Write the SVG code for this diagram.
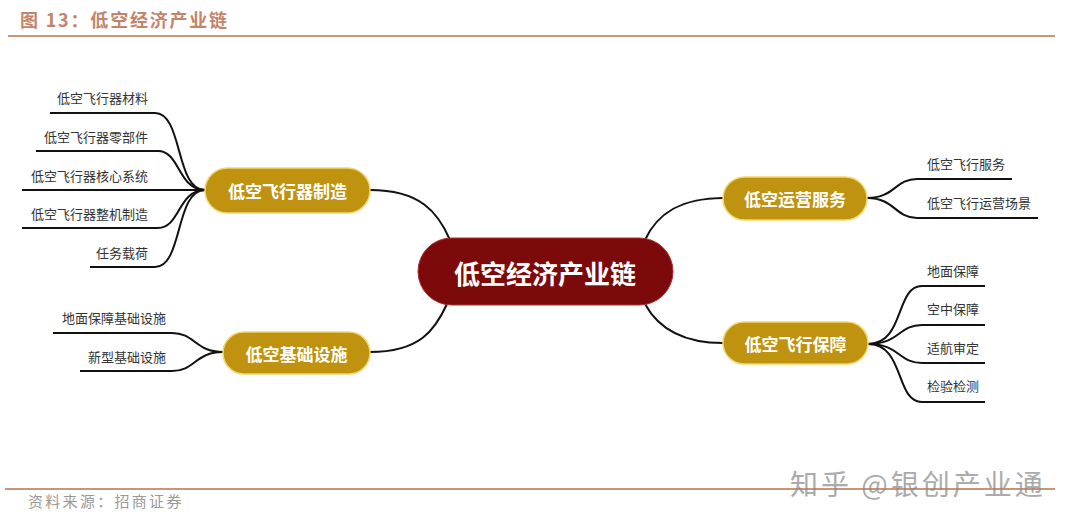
<svg xmlns="http://www.w3.org/2000/svg" width="1080" height="527" viewBox="0 0 1080 527">
<style>
text{font-family:"Noto Sans CJK SC","Noto Sans",sans-serif;}
.leaf{font-size:13px;fill:#333;}
.lr{text-anchor:end;}
.node{fill:#bf930f;stroke:#f2d670;stroke-width:1.5;}
.ntext{font-size:17px;fill:#fff;font-weight:bold;text-anchor:middle;dominant-baseline:central;}
.con{fill:none;stroke:#111;stroke-width:2;}
</style>
<rect width="1080" height="527" fill="#fff"/>
<text x="20" y="27" font-size="18" font-weight="bold" fill="#c4846a" letter-spacing="1.8">图 13：低空经济产业链</text>
<line x1="8" y1="36" x2="1055" y2="36" stroke="#c8947a" stroke-width="2"/>
<line x1="5" y1="489" x2="1055" y2="489" stroke="#c8947a" stroke-width="2"/>
<text x="28" y="507" font-size="15" fill="#999" letter-spacing="2.3">资料来源：招商证券</text>
<text x="790" y="495" font-size="28" fill="#888" opacity="0.7" letter-spacing="3">知乎 @银创产业通</text>

<g id="connectors">
<path class="con" d="M370,190 C420,190 438,212 450,240"/>
<path class="con" d="M370,352 C420,352 435,330 447,304"/>
<path class="con" d="M723,198 C680,198 657,214 645,240"/>
<path class="con" d="M723,343 C680,343 657,326 645,304"/>
<path class="con" d="M205,190 C175,190 183,113 155,113 H50"/>
<path class="con" d="M205,190 C178,190 180,151 158,151 H36"/>
<path class="con" d="M205,190 H22"/>
<path class="con" d="M205,190 C178,190 180,228 158,228 H22"/>
<path class="con" d="M205,190 C175,190 183,267 155,267 H90"/>
<path class="con" d="M223,352 C195,352 195,333 172,333 H53"/>
<path class="con" d="M223,352 C195,352 195,371 172,371 H80"/>
<path class="con" d="M867,198 C895,198 895,179 917,179 H1012"/>
<path class="con" d="M867,198 C895,198 895,218 917,218 H1038"/>
<path class="con" d="M868,344 C905,344 895,286 922,286 H985"/>
<path class="con" d="M868,344 C900,344 898,325 922,325 H985"/>
<path class="con" d="M868,344 C900,344 898,363 922,363 H985"/>
<path class="con" d="M868,344 C905,344 895,402 922,402 H985"/>
</g>

<g id="center">
<rect x="418" y="238" width="255" height="67" rx="33.5" fill="#7d0a0a" stroke="#a83030" stroke-width="1"/>
<text x="545" y="272" font-size="26" font-weight="bold" fill="#fff" text-anchor="middle" dominant-baseline="central">低空经济产业链</text>
</g>
<g id="n-manufacture">
<rect class="node" x="205" y="168" width="165" height="45" rx="22.5"/>
<text class="ntext" x="287.5" y="190.5">低空飞行器制造</text>
</g>
<g id="n-infra">
<rect class="node" x="223" y="332" width="147" height="42" rx="21"/>
<text class="ntext" x="296.5" y="353">低空基础设施</text>
</g>
<g id="n-operation">
<rect class="node" x="723" y="177" width="144" height="43" rx="21.5"/>
<text class="ntext" x="795" y="198.5">低空运营服务</text>
</g>
<g id="n-support">
<rect class="node" x="723" y="322" width="145" height="42" rx="21"/>
<text class="ntext" x="795.5" y="343">低空飞行保障</text>
</g>

<g id="leaves-left">
<text class="leaf lr" x="148" y="103">低空飞行器材料</text>
<text class="leaf lr" x="148" y="142">低空飞行器零部件</text>
<text class="leaf lr" x="148" y="181">低空飞行器核心系统</text>
<text class="leaf lr" x="148" y="219">低空飞行器整机制造</text>
<text class="leaf lr" x="148" y="258">任务载荷</text>
<text class="leaf lr" x="166" y="323">地面保障基础设施</text>
<text class="leaf lr" x="166" y="362">新型基础设施</text>
</g>
<g id="leaves-right">
<text class="leaf" x="927" y="169">低空飞行服务</text>
<text class="leaf" x="927" y="208">低空飞行运营场景</text>
<text class="leaf" x="927" y="276">地面保障</text>
<text class="leaf" x="927" y="314">空中保障</text>
<text class="leaf" x="927" y="353">适航审定</text>
<text class="leaf" x="927" y="391">检验检测</text>
</g>
</svg>
